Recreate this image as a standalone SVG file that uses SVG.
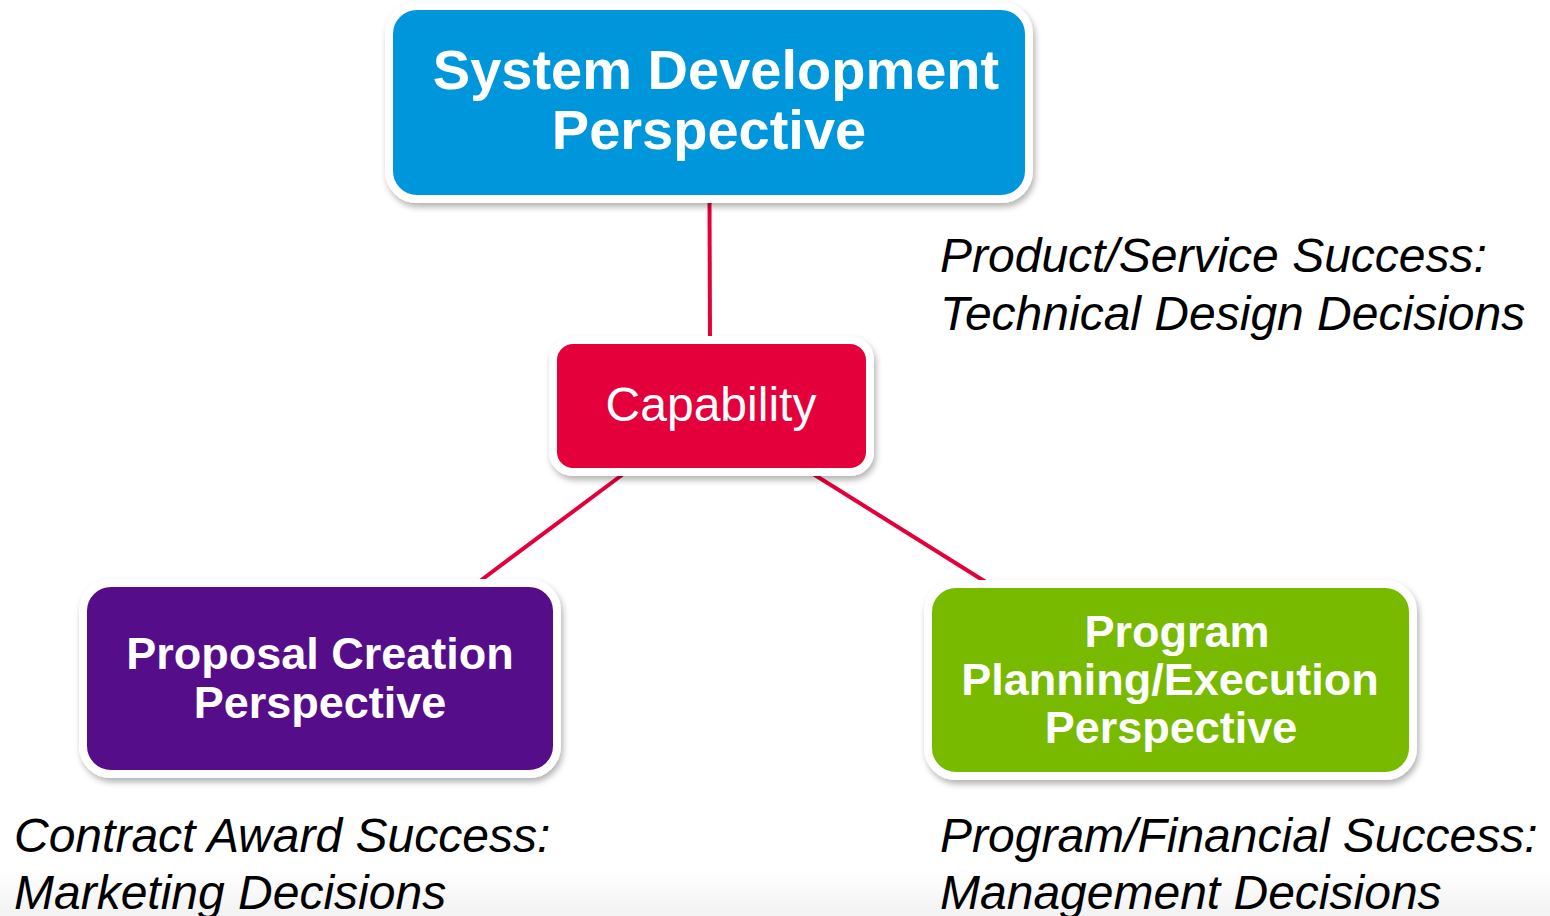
<svg xmlns="http://www.w3.org/2000/svg" width="1550" height="916" viewBox="0 0 1550 916">
<defs>
<filter id="sh" x="-10%" y="-10%" width="120%" height="130%">
<feDropShadow dx="2" dy="4" stdDeviation="3" flood-color="#000" flood-opacity="0.3"/>
</filter>
<linearGradient id="bg" x1="0" y1="0" x2="0" y2="1">
<stop offset="0" stop-color="#ffffff"/>
<stop offset="1" stop-color="#f2f2f2"/>
</linearGradient>
</defs>
<style>
.box{stroke:#ffffff;stroke-width:8;filter:url(#sh)}
.bt{font-family:"Liberation Sans",Arial,sans-serif;font-weight:bold;fill:#ffffff;text-anchor:middle}
.it{font-family:"Liberation Sans",Arial,sans-serif;font-style:italic;fill:#000000;font-size:48px}
.conn{stroke:#e4003a;stroke-width:4;fill:none}
</style>
<rect x="0" y="0" width="1550" height="916" fill="#ffffff"/>
<rect x="0" y="870" width="1550" height="46" fill="url(#bg)"/>
<g id="connectors">
<line class="conn" x1="709.5" y1="200" x2="710" y2="340"/>
<line class="conn" x1="626" y1="472" x2="476" y2="584"/>
<line class="conn" x1="810" y1="472" x2="989" y2="584"/>
</g>
<g id="system-development">
<rect class="box" x="389" y="6" width="640" height="193" rx="28" fill="#0096db"/>
<text class="bt" font-size="56" x="716" y="89">System Development</text>
<text class="bt" font-size="56" x="709" y="149">Perspective</text>
</g>
<g id="capability">
<rect class="box" x="553" y="340" width="317" height="132" rx="20" fill="#e4003a"/>
<text x="711" y="421" font-family="'Liberation Sans',Arial,sans-serif" font-size="48" fill="#ffffff" text-anchor="middle">Capability</text>
</g>
<g id="proposal-creation">
<rect class="box" x="83" y="583" width="474" height="191" rx="28" fill="#561089"/>
<text class="bt" font-size="45" x="320" y="669">Proposal Creation</text>
<text class="bt" font-size="45" x="320" y="718">Perspective</text>
</g>
<g id="program-planning">
<rect class="box" x="928" y="584" width="485" height="192" rx="28" fill="#77ba00"/>
<text class="bt" font-size="45" x="1177" y="647">Program</text>
<text class="bt" font-size="45" x="1170" y="695">Planning/Execution</text>
<text class="bt" font-size="45" x="1171" y="743">Perspective</text>
</g>
<g id="labels">
<text class="it" x="940" y="272">Product/Service Success:</text>
<text class="it" x="940" y="330">Technical Design Decisions</text>
<text class="it" x="14" y="852">Contract Award Success:</text>
<text class="it" x="14" y="909">Marketing Decisions</text>
<text class="it" x="940" y="852">Program/Financial Success:</text>
<text class="it" x="940" y="909">Management Decisions</text>
</g>
</svg>
